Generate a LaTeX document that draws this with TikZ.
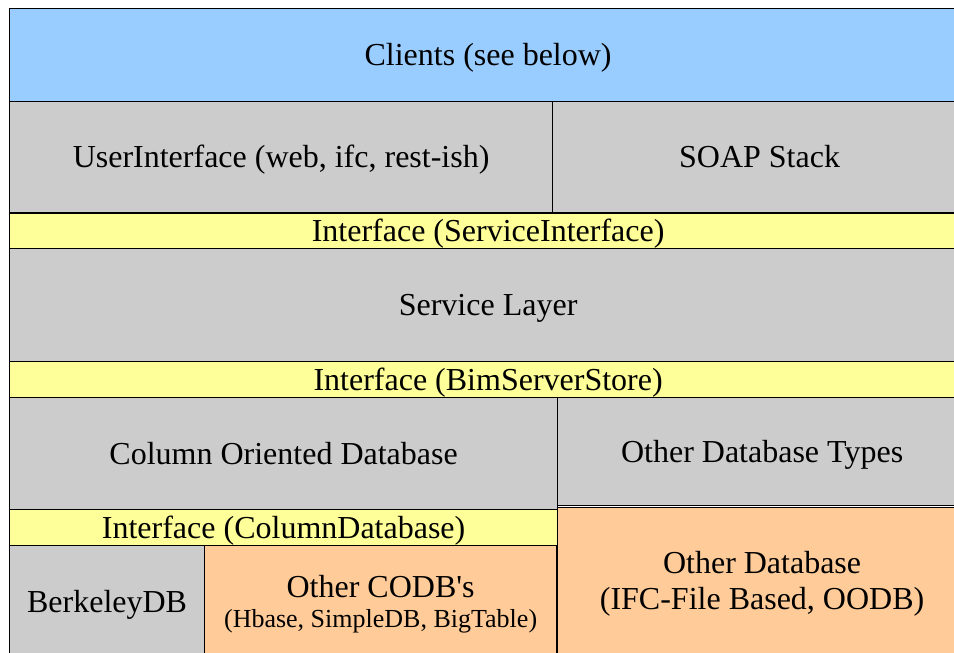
\documentclass[tikz,border=0pt]{standalone}
\usepackage{fontspec}
\setmainfont{Liberation Serif}

\definecolor{clientblue}{HTML}{99CCFF}
\definecolor{layergray}{HTML}{CCCCCC}
\definecolor{ifyellow}{HTML}{FFFF99}
\definecolor{dborange}{HTML}{FFCC99}

\newcommand{\straightquote}{{\addfontfeature{Ligatures=TeXOff}'}}

\tikzset{
  layer/.style={draw=black, line width=1.2pt, inner sep=0pt, anchor=north west,
    align=center, text height=24pt, text depth=3pt, font=\fontsize{32}{36}\selectfont}
}

\begin{document}
\begin{tikzpicture}[x=1pt,y=-1pt]

   \useasboundingbox (0,0) rectangle (954,653);
   \clip (0,0) rectangle (954,653);

   % top of the stack
   \node[layer, fill=clientblue, minimum width=957pt, minimum height=93pt] (clients) at (9,8) {Clients (see below)};
   \node[layer, fill=layergray, minimum width=543pt, minimum height=111pt] (userif) at (9,101) {UserInterface (web, ifc, rest-ish)};
   \node[layer, fill=layergray, minimum width=414pt, minimum height=111pt] (soap) at (552,101) {SOAP Stack};
   \node[layer, fill=ifyellow, minimum width=957pt, minimum height=35pt] (serviceif) at (9,213) {Interface (ServiceInterface)};

   % service layer
   \node[layer, fill=layergray, minimum width=957pt, minimum height=113pt] (service) at (9,248) {Service Layer};
   \node[layer, fill=ifyellow, minimum width=957pt, minimum height=36pt] (storeif) at (9,361) {Interface (BimServerStore)};

   % databases
   \node[layer, fill=layergray, minimum width=548pt, minimum height=112pt] (codb) at (9,397) {Column Oriented Database};
   \node[layer, fill=layergray, minimum width=409pt, minimum height=108pt] (othertypes) at (557,397) {Other Database Types};
   \node[layer, fill=ifyellow, minimum width=548pt, minimum height=36pt] (columnif) at (9,509) {Interface (ColumnDatabase)};
   \node[layer, fill=layergray, minimum width=195pt, minimum height=112pt] (berkeley) at (9,545) {BerkeleyDB};
   \node[layer, fill=dborange, minimum width=352pt, minimum height=112pt, text height=55pt] (othercodb) at (204,545)
     {Other CODB\straightquote s\\[-6pt]{\fontsize{26}{30}\selectfont (Hbase, SimpleDB, BigTable)}};
   \node[layer, fill=dborange, minimum width=409pt, minimum height=150pt, text height=57pt] (otherdb) at (557,507)
     {Other Database\\(IFC-File Based, OODB)};

\end{tikzpicture}
\end{document}
